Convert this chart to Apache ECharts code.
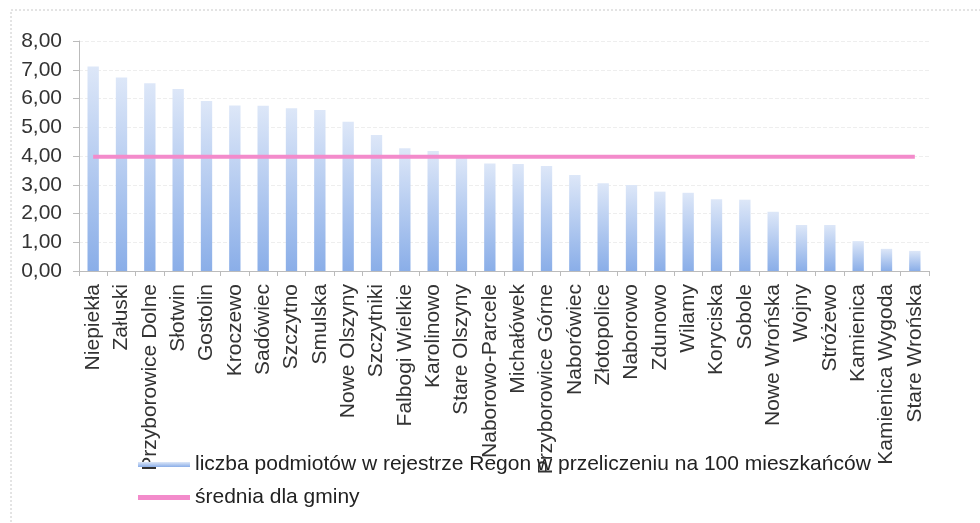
<!DOCTYPE html>
<html><head><meta charset="utf-8">
<script src="https://cdn.jsdelivr.net/npm/echarts@6/dist/echarts.min.js"></script>
<style>html,body{margin:0;padding:0;background:#fff}#c{width:980px;height:523px}</style>
</head><body><div id="c"></div>
<script>
var categories = ["Niepiekła","Załuski","Przyborowice Dolne","Słotwin","Gostolin","Kroczewo","Sadówiec","Szczytno","Smulska","Nowe Olszyny","Szczytniki","Falbogi Wielkie","Karolinowo","Stare Olszyny","Naborowo-Parcele","Michałówek","Przyborowice Górne","Naborówiec","Złotopolice","Naborowo","Zdunowo","Wilamy","Koryciska","Sobole","Nowe Wrońska","Wojny","Stróżewo","Kamienica","Kamienica Wygoda","Stare Wrońska"];
var values = [7.11,6.73,6.53,6.33,5.91,5.76,5.75,5.66,5.60,5.19,4.73,4.27,4.17,3.98,3.74,3.72,3.65,3.34,3.05,2.99,2.76,2.72,2.50,2.48,2.06,1.60,1.60,1.04,0.77,0.70];
var averageValue = 3.97;
var seriesNames = ["liczba podmiotów w rejestrze Regon w przeliczeniu na 100 mieszkańców","średnia dla gminy"];
var yTicks = {min:0, max:8, interval:1};

var avg = categories.map(function(){return averageValue;});
var barGrad = new echarts.graphic.LinearGradient(0,0,0,1,[{offset:0,color:'#dde7f8'},{offset:1,color:'#8aaee8'}]);
var font = 'Liberation Sans, Arial, sans-serif';
var chart = echarts.init(document.getElementById('c'), null, {renderer:'canvas'});
chart.setOption({
  animation:false,
  backgroundColor:'#fff',
  graphic:[{type:'rect',shape:{x:11,y:10,width:1000,height:600},style:{fill:'none',stroke:'#c8c8c8',lineWidth:1,lineDash:[2,2]},silent:true,z:-1}],
  grid:{left:79,right:51,top:41,bottom:252},
  legend:{orient:'vertical',left:133,top:449,itemWidth:52,itemHeight:5,itemGap:12,
    textStyle:{fontFamily:font,fontSize:21,color:'#222'},
    data:[{name:seriesNames[0],icon:'rect'},{name:seriesNames[1],icon:'rect'}]},
  xAxis:{type:'category',data:categories,boundaryGap:true,
    axisLine:{lineStyle:{color:'#bbb'}},
    axisTick:{show:true,alignWithLabel:false,length:5,lineStyle:{color:'#bbb'}},
    axisLabel:{rotate:90,interval:0,margin:13,fontFamily:font,fontSize:21,color:'#333'}},
  yAxis:{type:'value',min:yTicks.min,max:yTicks.max,interval:yTicks.interval,
    axisLine:{show:true,lineStyle:{color:'#bbb'}},
    axisTick:{show:true,length:6,lineStyle:{color:'#bbb'}},
    splitLine:{show:true,lineStyle:{color:'#eeeeee',type:'dashed'}},
    axisLabel:{margin:17,fontFamily:font,fontSize:21,color:'#333',
      formatter:function(v){return v.toFixed(2).replace('.',',');}}},
  series:[
    {name:seriesNames[0],type:'bar',data:values,barWidth:'40%',itemStyle:{color:barGrad}},
    {name:seriesNames[1],type:'line',data:avg,symbol:'none',lineStyle:{color:'#f38bcb',width:4},itemStyle:{color:'#f38bcb'},z:3}
  ]
});
</script></body></html>
